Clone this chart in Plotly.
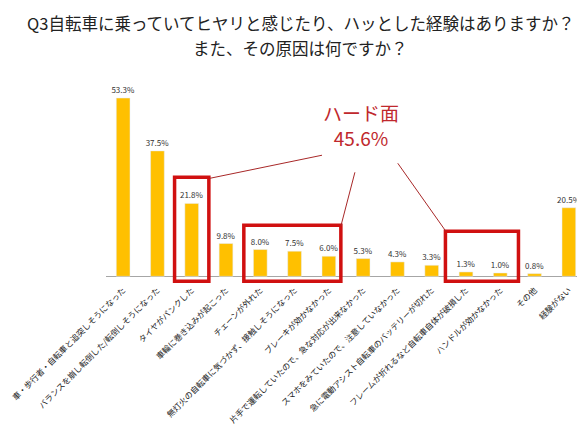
import plotly.graph_objects as go

# 選択肢と回答率(%)
categories = [
    "車・歩行者・自転車と追突しそうになった",
    "バランスを崩し転倒した/転倒しそうになった",
    "タイヤがパンクした",
    "車輪に巻き込みが起こった",
    "チェーンが外れた",
    "無灯火の自転車に気づかず、接触しそうになった",
    "ブレーキが効かなかった",
    "片手で運転していたので、急な対応が出来なかった",
    "スマホをみていたので、注意していなかった",
    "急に電動アシスト自転車のバッテリーが切れた",
    "フレームが折れるなど自転車自体が破損した",
    "ハンドルが効かなかった",
    "その他",
    "経験がない",
]
values = [53.3, 37.5, 21.8, 9.8, 8.0, 7.5, 6.0, 5.3, 4.3, 3.3, 1.3, 1.0, 0.8, 20.5]
labels = [f"{v:.1f}%" for v in values]

title_lines = ["Q3自転車に乗っていてヒヤリと感じたり、ハッとした経験はありますか？",
               "また、その原因は何ですか？"]
hard_total = "ハード面<br>45.6%"

font_jp = "Noto Sans CJK JP"
red = "#d01010"
line_red = "#a82828"

W, H = 585, 428
M = dict(l=98, r=7, t=80, b=153)
plot_w = W - M["l"] - M["r"]
plot_h = H - M["t"] - M["b"]

fig = go.Figure()
fig.add_trace(go.Bar(
    x=list(range(len(categories))),
    y=values,
    text=labels,
    textposition="outside",
    constraintext="none",
    textfont=dict(size=8, color="#333333", family=font_jp),
    marker_color="#FFC000",
    width=0.4,
    cliponaxis=False,
    hoverinfo="skip",
))

# 赤枠(ハード面の項目)
boxes = [(1.5, 2.5, 29.6), (3.52, 6.35, 15.3), (9.4, 11.53, 13.5)]
for x0, x1, top in boxes:
    fig.add_shape(type="rect", xref="x", yref="y", x0=x0, x1=x1, y0=-1.5, y1=top,
                  line=dict(color=red, width=3.5))

# 引き出し線
leaders = [(2.53, 29.3, 5.80, 36.2), (6.35, 15.0, 6.76, 31.1), (8.01, 33.8, 9.41, 13.5)]
for x0, y0, x1, y1 in leaders:
    fig.add_shape(type="line", xref="x", yref="y", x0=x0, y0=y0, x1=x1, y1=y1,
                  line=dict(color=line_red, width=1))

fig.add_annotation(x=6.93, y=45.3, xref="x", yref="y", text=hard_total, showarrow=False,
                   font=dict(size=19, color="#c0282d", family=font_jp))

# タイトル(2行, ページ中央)
for i, line in enumerate(title_lines):
    py = 15 + 25 * i
    fig.add_annotation(x=(W / 2 - M["l"]) / plot_w, xref="paper", xanchor="center",
                       y=(H - M["b"] - py) / plot_h, yref="paper", yanchor="middle",
                       text=line, showarrow=False,
                       font=dict(size=16.5, color="#222222", family=font_jp))

fig.update_layout(
    width=W, height=H,
    margin=M,
    paper_bgcolor="white", plot_bgcolor="white",
    showlegend=False,
)
fig.update_xaxes(
    tickmode="array", tickvals=list(range(len(categories))), ticktext=categories,
    tickangle=-45, tickfont=dict(size=8.2, color="#222222", family=font_jp),
    range=[-0.5, len(categories) - 0.5], ticklabeloverflow="allow",
    showline=False, showgrid=False, ticks="", automargin=False,
)
fig.update_yaxes(
    range=[-2, 56.3], showgrid=False, showticklabels=False, ticks="",
    zeroline=True, zerolinecolor="#a6a6a6", zerolinewidth=1, showline=False,
)

fig.write_html("out.html")
